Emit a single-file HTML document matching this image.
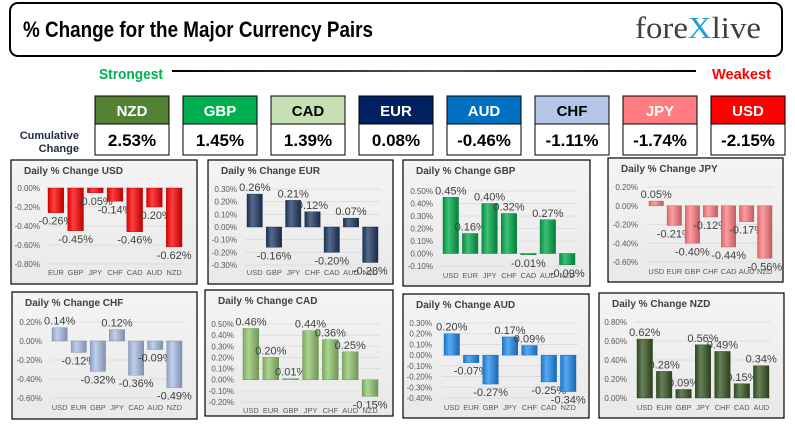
<!DOCTYPE html>
<html><head><meta charset="utf-8"><style>
html,body{margin:0;padding:0;background:#fff;width:795px;height:431px;overflow:hidden}
svg{display:block}
</style></head><body>
<svg id="root" width="795" height="431" viewBox="0 0 795 431" xmlns="http://www.w3.org/2000/svg" font-family="Liberation Sans, sans-serif">
<defs>
<linearGradient id="bg" x1="0" y1="0" x2="0" y2="1"><stop offset="0" stop-color="#f4f4f4"/><stop offset="1" stop-color="#e9e9e9"/></linearGradient>
<linearGradient id="rule" x1="0" x2="1"><stop offset="0" stop-color="#000"/><stop offset="0.5" stop-color="#555"/><stop offset="1" stop-color="#000"/></linearGradient>
</defs>
<rect x="10" y="3" width="772" height="53" rx="8" fill="#fff" stroke="#000" stroke-width="2"/>
<text x="23" y="37" font-size="22" font-weight="bold" font-family="Liberation Sans Narrow, Liberation Sans, sans-serif" textLength="350" lengthAdjust="spacingAndGlyphs">% Change for the Major Currency Pairs</text>
<text x="635" y="38" font-size="31" font-family="Liberation Serif, serif" fill="#404040" textLength="126" lengthAdjust="spacingAndGlyphs">fore<tspan fill="#1fa0e0">X</tspan>live</text>
<text x="99" y="79" font-size="15" font-weight="bold" fill="#00b050" font-family="Liberation Sans Narrow, Liberation Sans, sans-serif" textLength="64" lengthAdjust="spacingAndGlyphs">Strongest</text>
<rect x="172" y="70" width="524" height="2" fill="url(#rule)"/>
<text x="712" y="79" font-size="15" font-weight="bold" fill="#ff0000" font-family="Liberation Sans Narrow, Liberation Sans, sans-serif" textLength="59" lengthAdjust="spacingAndGlyphs">Weakest</text>
<text text-anchor="end" font-size="11" font-weight="bold" fill="#1f2a44" font-family="Liberation Sans Narrow, Liberation Sans, sans-serif"><tspan x="79" y="139">Cumulative</tspan><tspan x="79" y="152">Change</tspan></text>
<g id="boxes"></g>
<g id="charts"></g>
</svg>
<script>
// ---- cumulative data ----
const rankCurrencies = ["NZD","GBP","CAD","EUR","AUD","CHF","JPY","USD"];
const rankValues = [2.53,1.45,1.39,0.08,-0.46,-1.11,-1.74,-2.15];
const rankColors = ["#548235","#00b050","#c6e0b4","#002060","#0070c0","#b4c6e7","#ff7c80","#ff0000"];
const rankTextColors = ["#fff","#fff","#000","#fff","#fff","#000","#fff","#fff"];

// ---- daily chart data ----
const usdCats = ["EUR","GBP","JPY","CHF","CAD","AUD","NZD"];
const usdVals = [-0.26,-0.45,-0.05,-0.14,-0.46,-0.20,-0.62];
const usdTicks = [0,-0.2,-0.4,-0.6,-0.8];
const eurCats = ["USD","GBP","JPY","CHF","CAD","AUD","NZD"];
const eurVals = [0.26,-0.16,0.21,0.12,-0.20,0.07,-0.28];
const eurTicks = [0.3,0.2,0.1,0,-0.1,-0.2,-0.3];
const gbpCats = ["USD","EUR","JPY","CHF","CAD","AUD","NZD"];
const gbpVals = [0.45,0.16,0.40,0.32,-0.01,0.27,-0.09];
const gbpTicks = [0.5,0.4,0.3,0.2,0.1,0,-0.1];
const jpyCats = ["USD","EUR","GBP","CHF","CAD","AUD","NZD"];
const jpyVals = [0.05,-0.21,-0.40,-0.12,-0.44,-0.17,-0.56];
const jpyTicks = [0.2,0,-0.2,-0.4,-0.6];
const chfCats = ["USD","EUR","GBP","JPY","CAD","AUD","NZD"];
const chfVals = [0.14,-0.12,-0.32,0.12,-0.36,-0.09,-0.49];
const chfTicks = [0.2,0,-0.2,-0.4,-0.6];
const cadCats = ["USD","EUR","GBP","JPY","CHF","AUD","NZD"];
const cadVals = [0.46,0.20,0.01,0.44,0.36,0.25,-0.15];
const cadTicks = [0.5,0.4,0.3,0.2,0.1,0,-0.1,-0.2];
const audCats = ["USD","EUR","GBP","JPY","CHF","CAD","NZD"];
const audVals = [0.20,-0.07,-0.27,0.17,0.09,-0.25,-0.34];
const audTicks = [0.3,0.2,0.1,0,-0.1,-0.2,-0.3,-0.4];
const nzdCats = ["USD","EUR","GBP","JPY","CHF","CAD","AUD"];
const nzdVals = [0.62,0.28,0.09,0.56,0.49,0.15,0.34];
const nzdTicks = [0.8,0.6,0.4,0.2,0];

const NS="http://www.w3.org/2000/svg";
function mk(tag, attrs, parent){const e=document.createElementNS(NS,tag);for(const k in attrs)e.setAttribute(k,attrs[k]);if(parent)parent.appendChild(e);return e;}

// boxes
const boxes=document.getElementById('boxes');
rankCurrencies.forEach((c,i)=>{
  const x=95+i*88;
  const g=mk('g',{},boxes);
  
  
  mk('rect',{x:x,y:96,width:74,height:28,fill:rankColors[i],stroke:'#000','stroke-width':1},g);
  mk('rect',{x:x,y:124,width:74,height:31,fill:'#fff',stroke:'#000','stroke-width':1},g);
  const t=mk('text',{x:x+37,y:116,'text-anchor':'middle','font-size':15,'font-weight':'bold',fill:rankTextColors[i],'font-family':'Liberation Sans Narrow, Liberation Sans, sans-serif'},g);
  
  
  t.textContent=c;
  const v=mk('text',{x:x+37,y:146,'text-anchor':'middle','font-size':17,'font-weight':'bold',fill:'#000','font-family':'Liberation Sans Narrow, Liberation Sans, sans-serif'},g);
  
  
  v.textContent=rankValues[i].toFixed(2)+'%';
});

// chart layouts (positions only)
const charts=[
 {id:'usd',cats:usdCats,vals:usdVals,ticks:usdTicks,color:'#ff0000',x:11,y:160,w:186,h:124,yTop:28,yBot:104,lblR:29,bL:37,bR:171,catY:115},
 {id:'eur',cats:eurCats,vals:eurVals,ticks:eurTicks,color:'#1f3864',x:208,y:160,w:185,h:124,yTop:29,yBot:105,lblR:29,bL:39,bR:170,catY:115},
 {id:'gbp',cats:gbpCats,vals:gbpVals,ticks:gbpTicks,color:'#00a94a',x:403,y:160,w:187,h:126,yTop:31,yBot:106,lblR:30,bL:40,bR:172,catY:118},
 {id:'jpy',cats:jpyCats,vals:jpyVals,ticks:jpyTicks,color:'#ff7c80',x:608,y:158,w:175,h:124,yTop:29,yBot:104,lblR:30,bL:41,bR:164,catY:116},
 {id:'chf',cats:chfCats,vals:chfVals,ticks:chfTicks,color:'#a9bfe6',x:12,y:292,w:185,h:127,yTop:30,yBot:106,lblR:30,bL:40,bR:170,catY:118},
 {id:'cad',cats:cadCats,vals:cadVals,ticks:cadTicks,color:'#92c76e',x:205,y:290,w:188,h:126,yTop:34,yBot:112,lblR:29,bL:38,bR:173,catY:123},
 {id:'aud',cats:audCats,vals:audVals,ticks:audTicks,color:'#1f8cf0',x:403,y:294,w:186,h:124,yTop:29,yBot:104,lblR:29,bL:41,bR:173,catY:116},
 {id:'nzd',cats:nzdCats,vals:nzdVals,ticks:nzdTicks,color:'#375623',x:599,y:293,w:185,h:125,yTop:29,yBot:105,lblR:28,bL:38,bR:170,catY:117}
];

function shade(hex,f){const n=parseInt(hex.slice(1),16);let r=n>>16,g=(n>>8)&255,b=n&255;
 if(f>0){r+= (255-r)*f;g+=(255-g)*f;b+=(255-b)*f;}else{r*=1+f;g*=1+f;b*=1+f;}
 return 'rgb('+Math.round(r)+','+Math.round(g)+','+Math.round(b)+')';}

const defs=document.querySelector('defs');
const chartsG=document.getElementById('charts');
charts.forEach(c=>{
  const gr=mk('linearGradient',{id:'g-'+c.id,x1:0,x2:1,y1:0,y2:0},defs);
  mk('stop',{offset:0,'stop-color':shade(c.color,-0.15)},gr);
  mk('stop',{offset:0.35,'stop-color':shade(c.color,0.25)},gr);
  mk('stop',{offset:1,'stop-color':shade(c.color,-0.25)},gr);

  const g=mk('g',{transform:'translate('+c.x+','+c.y+')'},chartsG);
  
  
  mk('rect',{x:0,y:0,width:c.w,height:c.h,fill:'url(#bg)',stroke:'#000','stroke-width':1.2},g);
  const t=mk('text',{x:13,y:14,'font-size':10,'font-weight':'bold',fill:'#404040'},g);
  
  
  t.textContent='Daily % Change '+c.id.toUpperCase();

  const maxV=Math.max(...c.ticks), minV=Math.min(...c.ticks);
  const ys=v=>c.yTop+(maxV-v)/(maxV-minV)*(c.yBot-c.yTop);
  const band=(c.bR-c.bL)/6.8, bw=band*0.8;
  const plotL=c.bL-band*0.1, plotR=plotL+band*7;
  const xs=i=>c.bL+i*band;

  c.ticks.forEach(tv=>{
    const gl=mk('line',{x1:plotL,x2:plotR,y1:ys(tv),y2:ys(tv),stroke:'#d9d9d9','stroke-width':0.8},g);
    
    
    const tl=mk('text',{x:c.lblR,y:ys(tv)+3,'text-anchor':'end','font-size':8,fill:'#595959'},g);
    
    
    tl.textContent=tv.toFixed(2)+'%';
  });
  c.vals.forEach((v,i)=>{
    const y0=ys(0), y1=ys(v);
    const b=mk('rect',{x:xs(i),y:Math.min(y0,y1),width:bw,height:Math.max(1,Math.abs(y1-y0)),fill:'url(#g-'+c.id+')',stroke:shade(c.color,-0.3),'stroke-width':0.4},g);
    
    
    const lb=mk('text',{x:xs(i)+bw/2,y:v>=0?y1-3:y1+12,'text-anchor':'middle','font-size':11,fill:'#404040'},g);
    
    
    lb.textContent=v.toFixed(2)+'%';
    const cl=mk('text',{x:xs(i)+bw/2,y:c.catY,'text-anchor':'middle','font-size':7.5,fill:'#595959'},g);
    
    
    cl.textContent=c.cats[i];
  });
});
</script>
</body></html>
